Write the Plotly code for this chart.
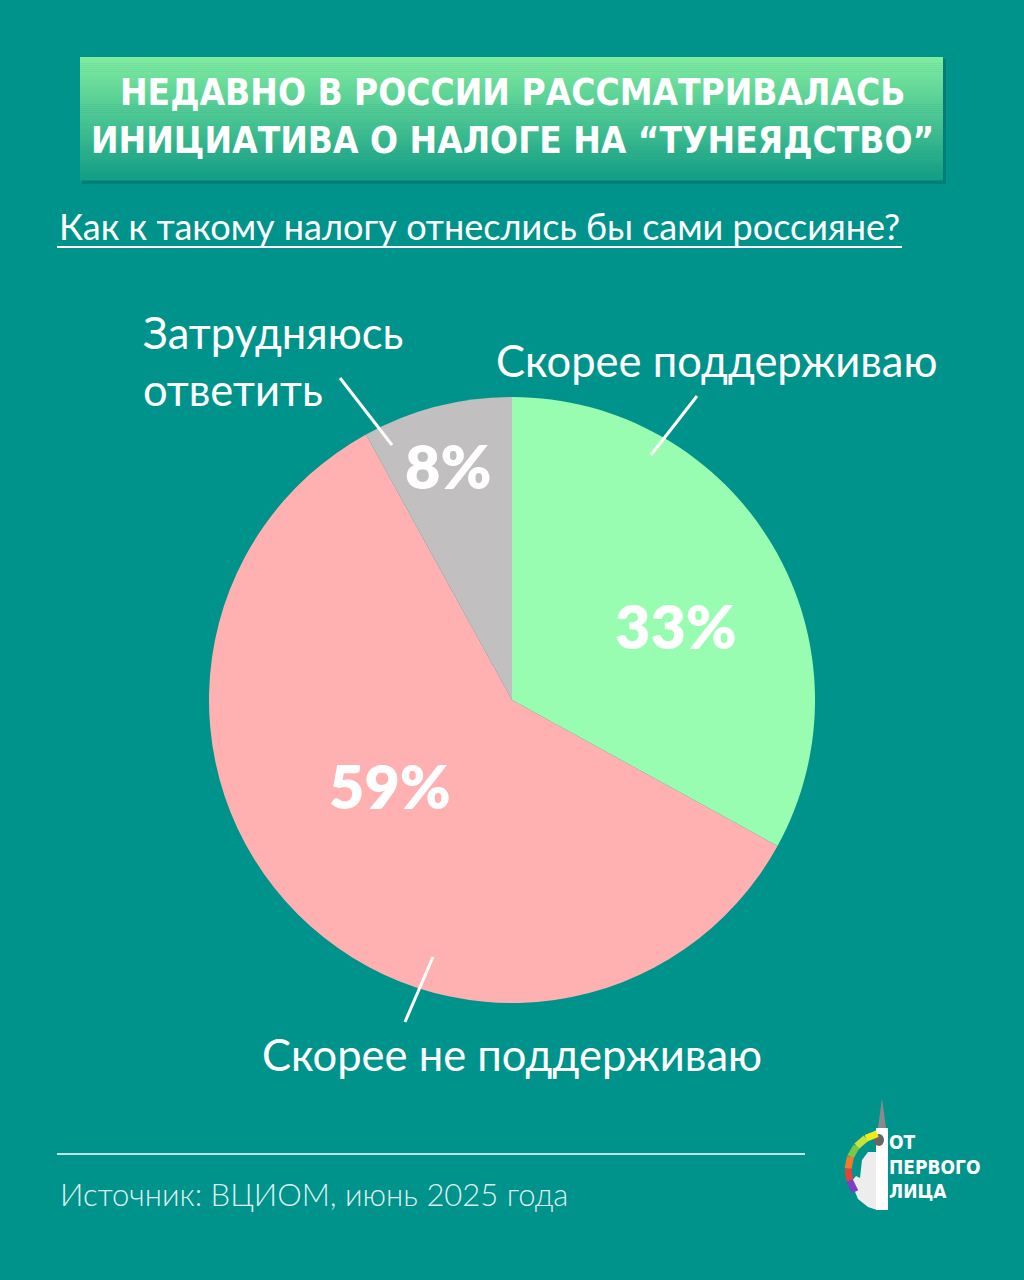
import math
import plotly.graph_objects as go

# survey data
labels = ['Скорее поддерживаю', 'Скорее не поддерживаю', 'Затрудняюсь ответить']
values = [33, 59, 8]
colors = ['#99FDB1', '#FFB1B1', '#C1BFBF']

title_lines = ['НЕДАВНО В РОССИИ РАССМАТРИВАЛАСЬ', 'ИНИЦИАТИВА О НАЛОГЕ НА “ТУНЕЯДСТВО”']
question = 'Как к такому налогу отнеслись бы сами россияне?'
source = 'Источник: ВЦИОМ, июнь 2025 года'

W, H = 1024, 1280
BG = '#00938C'
CX, CY, R = 512, 700, 303

# where the percent labels sit inside each slice (pixels)
pct_pos = [(676, 625), (390, 785), (448, 466)]


def px(x):
    return x / W


def py(y):
    return 1 - y / H


fig = go.Figure()

fig.add_trace(go.Pie(
    labels=labels, values=values, sort=False, direction='clockwise',
    marker=dict(colors=colors, line=dict(width=0)),
    textinfo='none',
    domain=dict(x=[px(CX - R), px(CX + R)], y=[py(CY + R), py(CY - R)]),
    showlegend=False, hoverinfo='label+percent'))

shapes = []
# soft shadow behind banner
shapes.append(dict(type='rect', xref='paper', yref='paper',
                   x0=px(82), x1=px(946), y0=py(59), y1=py(184),
                   fillcolor='rgba(0,60,55,0.25)', line=dict(width=0), layer='below'))
# banner with vertical gradient (stacked strips)
n = 60
top, bot = (128, 236, 160), (20, 158, 134)
y0, y1 = 57, 180
for i in range(n):
    t = i / (n - 1)
    c = tuple(int(top[k] + (bot[k] - top[k]) * t) for k in range(3))
    ya = y0 + (y1 - y0) * i / n
    yb = y0 + (y1 - y0) * (i + 1) / n + 0.5
    shapes.append(dict(type='rect', xref='paper', yref='paper',
                       x0=px(80), x1=px(943), y0=py(ya), y1=py(yb),
                       fillcolor='rgb(%d,%d,%d)' % c, line=dict(width=0), layer='below'))

line_style = dict(color='white', width=3)
# underline of the question
shapes.append(dict(type='line', xref='paper', yref='paper', x0=px(57), x1=px(902),
                   y0=py(247), y1=py(247), line=dict(color='white', width=2)))
# leader lines
for (xa, ya, xb, yb) in [(340, 378, 392, 445), (697, 396, 651, 455), (433, 957, 405, 1022)]:
    shapes.append(dict(type='line', xref='paper', yref='paper', x0=px(xa), x1=px(xb),
                       y0=py(ya), y1=py(yb), line=line_style))
# footer divider
shapes.append(dict(type='line', xref='paper', yref='paper', x0=px(57), x1=px(805),
                   y0=py(1154), y1=py(1154), line=dict(color='white', width=1.5)))


def poly(pts, color):
    d = 'M ' + ' L '.join('%f %f' % (px(a), py(b)) for a, b in pts) + ' Z'
    return dict(type='path', xref='paper', yref='paper', path=d,
                fillcolor=color, line=dict(width=0))


# logo: buildings, tower, spire, rainbow arc
shapes.append(poly([(851, 1182), (856, 1176), (860, 1178), (862, 1160), (868, 1152),
                    (877, 1152), (877, 1210), (868, 1207), (858, 1199)], '#EDEDED'))
shapes.append(poly([(876, 1128), (888, 1128), (888, 1210), (876, 1210)], '#FFFFFF'))
shapes.append(poly([(878, 1128), (882, 1098), (886, 1128)], '#8A8A8A'))
shapes.append(dict(type='circle', xref='paper', yref='paper',
                   x0=px(874), x1=px(884), y0=py(1146), y1=py(1134),
                   fillcolor='#666666', line=dict(width=0)))
arc_cols = ['#F3EA1C', '#C9E23A', '#7CC64A', '#F07B2A', '#E0433A', '#7B3FC4']
cx0, cy0, rr = 885, 1170, 37
for k, col in enumerate(arc_cols):
    a0 = math.radians(-12 - k * 19)
    a1 = math.radians(-12 - (k + 1) * 19)
    shapes.append(dict(type='line', xref='paper', yref='paper',
                       x0=px(cx0 + rr * math.sin(a0)), y0=py(cy0 - rr * math.cos(a0)),
                       x1=px(cx0 + rr * math.sin(a1)), y1=py(cy0 - rr * math.cos(a1)),
                       line=dict(color=col, width=7)))

annotations = []
for i, t in enumerate(title_lines):
    annotations.append(dict(xref='paper', yref='paper', x=px(512), y=py(93 + 48 * i),
                            text=t, showarrow=False, xanchor='center', yanchor='middle',
                            font=dict(family='DejaVu Sans Condensed', size=36.7,
                                      color='white', weight=700)))

annotations.append(dict(xref='paper', yref='paper', x=px(57), y=py(226), text=question,
                        showarrow=False, xanchor='left', yanchor='middle',
                        font=dict(family='Lato', size=36, color='white')))

label_font = dict(family='Lato', size=43.5, color='white')
annotations.append(dict(xref='paper', yref='paper', x=px(141), y=py(360),
                        text='Затрудняюсь<br>ответить', align='left', showarrow=False,
                        xanchor='left', yanchor='middle', font=label_font))
annotations.append(dict(xref='paper', yref='paper', x=px(494), y=py(360),
                        text=labels[0], showarrow=False, xanchor='left', yanchor='middle',
                        font=label_font))
annotations.append(dict(xref='paper', yref='paper', x=px(512), y=py(1054),
                        text=labels[1], showarrow=False, xanchor='center', yanchor='middle',
                        font=label_font))

for v, (xp, yp) in zip(values, pct_pos):
    annotations.append(dict(xref='paper', yref='paper', x=px(xp), y=py(yp),
                            text='%d%%' % v, showarrow=False, xanchor='center',
                            yanchor='middle',
                            font=dict(family='Lato', size=61, color='white', weight=800)))

annotations.append(dict(xref='paper', yref='paper', x=px(58), y=py(1194), text=source,
                        showarrow=False, xanchor='left', yanchor='middle',
                        font=dict(family='Lato', size=31, color='rgba(255,255,255,0.88)',
                                  weight=300)))
annotations.append(dict(xref='paper', yref='paper', x=px(887), y=py(1166),
                        text='ОТ<br>ПЕРВОГО<br>ЛИЦА', align='left', showarrow=False,
                        xanchor='left', yanchor='middle',
                        font=dict(family='DejaVu Sans Condensed', size=19, color='white',
                                  weight=700)))

fig.update_layout(width=W, height=H, margin=dict(l=0, r=0, t=0, b=0),
                  paper_bgcolor=BG, plot_bgcolor=BG,
                  shapes=shapes, annotations=annotations,
                  xaxis=dict(visible=False), yaxis=dict(visible=False))

fig.write_html('out.html', config={'displayModeBar': False},
               post_script="document.body.style.margin='0';")
